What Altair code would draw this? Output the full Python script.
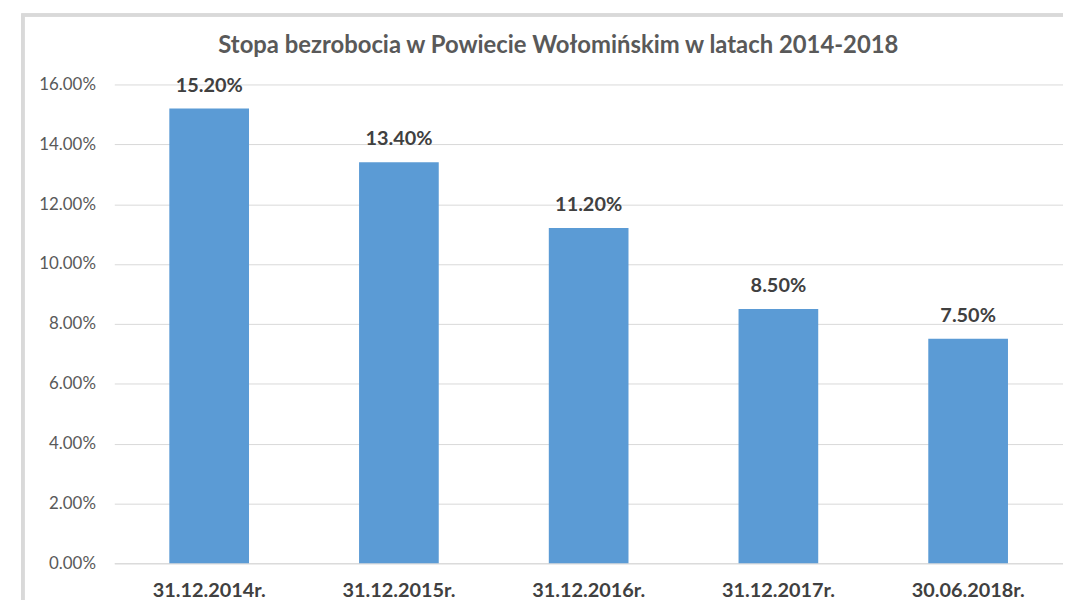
import altair as alt
import pandas as pd

title_text = "Stopa bezrobocia w Powiecie Wołomińskim w latach 2014-2018"
categories = ["31.12.2014r.", "31.12.2015r.", "31.12.2016r.", "31.12.2017r.", "30.06.2018r."]
values = [0.152, 0.134, 0.112, 0.085, 0.075]
labels = ["15.20%", "13.40%", "11.20%", "8.50%", "7.50%"]

df = pd.DataFrame({"cat": categories, "val": values, "lab": labels})

W, H = 955, 482
FONT = "Lato"

x = alt.X("cat:N", sort=categories, title=None,
          scale=alt.Scale(paddingInner=0.58, paddingOuter=0.29),
          axis=alt.Axis(labelAngle=0, labelFontWeight="bold", labelFontSize=20,
                        labelColor="#404040", labelPadding=17, ticks=False,
                        domainColor="#D9D9D9", labelFont=FONT))
y = alt.Y("val:Q", title=None,
          scale=alt.Scale(domain=[0, 0.16], nice=False),
          axis=alt.Axis(format=".2%", values=[0, 0.02, 0.04, 0.06, 0.08, 0.10, 0.12, 0.14, 0.16],
                        labelFontSize=17, labelColor="#595959", labelPadding=19,
                        ticks=False, domain=False, gridColor="#D9D9D9", labelFont=FONT))

frame = alt.Chart(df).mark_rect(fill=None, stroke="#D9D9D9", strokeWidth=3, clip=False).encode(
    x=alt.value(-92), x2=alt.value(W + 60), y=alt.value(-70), y2=alt.value(H + 60)
)

title = alt.Chart(pd.DataFrame({"t": [title_text]})).mark_text(
    fontSize=24, fontWeight="bold", color="#595959", font=FONT,
    align="center", baseline="middle", clip=False
).encode(x=alt.value(447), y=alt.value(-39), text="t:N")

bars = alt.Chart(df).mark_bar(color="#5B9BD5").encode(x=x, y=y)
text = alt.Chart(df).mark_text(dy=-13, fontWeight="bold", fontSize=20, color="#404040",
                               font=FONT, baseline="bottom").encode(
    x=alt.X("cat:N", sort=categories), y="val:Q", text="lab:N")

chart = alt.layer(bars, text, frame, title).properties(
    width=W, height=H,
    autosize=alt.AutoSizeParams(type="none"),
    padding={"left": 107, "top": 75, "right": 0, "bottom": 35},
).configure_view(stroke=None)

chart.save("out.html", embed_options={"renderer": "svg", "actions": False})
